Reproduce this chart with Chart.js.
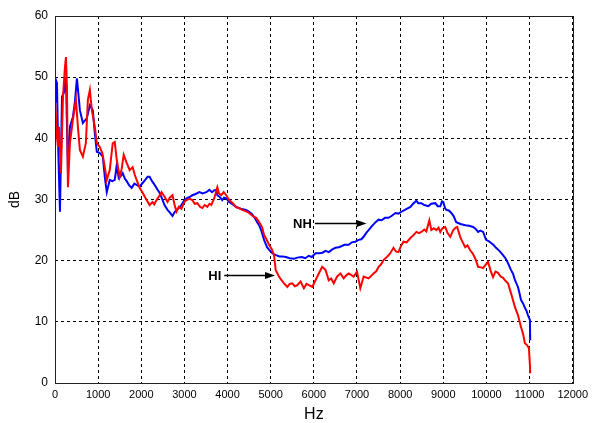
<!DOCTYPE html>
<html>
<head>
<meta charset="utf-8">
<script src="https://cdn.jsdelivr.net/npm/chart.js@4/dist/chart.umd.min.js"></script>
<style>
  html, body { margin: 0; padding: 0; background: #fff; }
  #wrap { width: 593px; height: 423px; position: relative; }
</style>
</head>
<body>
<div id="wrap"><canvas id="c" width="593" height="423"></canvas></div>
<script>
// ---- Data ----
const xTicks = [0,1000,2000,3000,4000,5000,6000,7000,8000,9000,10000,11000,12000];
const yTicks = [0,10,20,30,40,50,60];

// NH (blue)
const nhHz = [
  0,23,46,69,115,162,208,254,300,346,
  415,462,508,577,646,738,808,877,923,969,
  1038,1108,1154,1200,1269,1330,1385,1431,1477,1520,
  1569,1620,1662,1720,1777,1840,1892,1960,2031,2090,
  2146,2192,2250,2308,2360,2423,2480,2538,2608,2660,
  2723,2770,2815,2870,2931,2990,3046,3120,3185,3260,
  3346,3420,3508,3577,3640,3690,3738,3762,3820,3877,
  3920,3969,4038,4120,4200,4300,4431,4500,4569,4630,
  4685,4730,4777,4846,4915,4960,5008,5060,5123,5200,
  5270,5354,5440,5538,5615,5723,5800,5880,5954,6038,
  6115,6200,6269,6346,6420,6500,6577,6650,6708,6808,
  6880,6960,7038,7100,7154,7210,7269,7340,7431,7500,
  7569,7650,7731,7800,7892,7960,8031,8130,8238,8300,
  8377,8420,8492,8560,8654,8720,8815,8870,8931,8970,
  9000,9040,9069,9130,9185,9240,9300,9400,9508,9600,
  9692,9750,9808,9860,9923,9992,10050,10108,10160,10223,
  10300,10385,10440,10500,10569,10620,10662,10731,10770,10800,
  10850,10892,10930,10962,11008,11015];
const nhDb = [
  46,49.5,49,39.7,28,46.8,47.5,50,34.3,41.9,
  43.5,46,49.8,44.6,42.5,43.3,45.4,44.6,40.8,37.8,
  37.6,37,33.7,31.2,33.2,33,33.2,35.6,33.5,33.8,
  34.3,33.4,33,32.3,31.9,32.6,32.4,32.1,32.7,33.2,
  33.7,33.7,33,32.4,31.8,31.1,30.2,29.1,28.3,27.9,
  27.3,27.9,28.3,28.6,29.1,29.8,30.2,30.4,30.7,30.9,
  31.2,31,31.2,31.6,31.2,31.5,31.6,30.7,30.4,29.9,
  30.3,30.2,29.6,29.2,28.8,28.5,28.3,28,27.6,27,
  26.3,25.8,25,23.4,22.2,21.8,21.4,21.1,20.9,20.7,
  20.7,20.6,20.4,20.3,20.5,20.6,20.4,20.8,20.6,21.2,
  21.2,21.3,21.6,21.4,21.8,22.1,22.2,22.4,22.6,22.6,
  23,23.1,23.4,23.5,23.9,24.5,25,25.6,26.3,26.7,
  26.6,27,27,27.3,27.8,27.7,28,28.4,28.8,29.3,
  29.8,29.4,29.4,29.1,28.9,29.3,29.4,28.9,28.9,29.7,
  29.6,28.6,28.3,28.2,27.8,27.3,26.3,26,25.8,25.7,
  25.5,25.2,24.7,24.9,24.7,23.4,23.2,22.9,22.6,22.1,
  21.6,20.9,20.4,19.6,18.5,17.8,16.8,15.7,14.6,13.6,
  13,12.3,11.8,11.1,10.3,7];

// HI (red)
const hiHz = [
  0,46,69,92,138,185,231,254,277,300,
  346,415,485,531,577,646,715,762,808,854,
  923,969,1038,1100,1154,1200,1269,1338,1385,1431,
  1500,1546,1592,1662,1731,1800,1850,1892,1962,2031,
  2100,2192,2260,2300,2354,2420,2469,2538,2608,2660,
  2723,2770,2815,2870,2931,3000,3046,3120,3185,3240,
  3300,3360,3415,3470,3531,3580,3623,3692,3762,3800,
  3854,3910,3969,4038,4120,4200,4270,4338,4420,4500,
  4580,4662,4730,4800,4846,4900,4962,5030,5077,5115,
  5192,5250,5308,5385,5440,5500,5560,5615,5692,5769,
  5830,5885,5962,6038,6115,6192,6269,6346,6400,6462,
  6538,6615,6692,6750,6808,6923,7000,7077,7154,7269,
  7385,7450,7500,7560,7615,7692,7760,7846,7900,7962,
  8020,8077,8150,8238,8300,8377,8440,8492,8560,8608,
  8677,8723,8780,8838,8890,8931,8980,9046,9100,9162,
  9231,9290,9323,9392,9450,9508,9560,9623,9680,9738,
  9808,9870,9923,9980,10038,10100,10154,10210,10269,10330,
  10385,10440,10500,10569,10662,10731,10800,10850,10892,10940,
  10985,11008,11015];
const hiDb = [
  46.3,40.2,38.6,41.9,34.3,46.8,51.7,53.3,48.4,32,
  39.2,43,46.3,41.9,38.1,37,39.2,46.3,47.9,44.6,
  41.9,39.2,38.6,37.5,35.3,33.2,34.8,39.2,39.4,36.5,
  33.7,35,37.3,36,34.8,35.3,34,33.2,31.9,31.1,
  30.2,29.1,29.6,29.2,29.9,30.6,31.2,30.5,29.6,30.3,
  30.7,29.2,28,28.8,28.5,29.6,29.9,30.1,29.9,29.3,
  29.4,28.8,28.6,29.1,28.8,29.3,29.1,30.2,32,31,
  30.7,31.2,30.7,29.9,29.4,28.7,28.6,28.3,28.1,27.8,
  27.3,27,26.3,25.5,24.2,23.5,22.6,21.8,20.9,18.5,
  17.4,16.8,16.3,15.7,16.2,16.3,15.8,16,16.6,15.5,
  16.2,16,15.7,16.8,17.9,19,18.5,16.8,17.1,16.3,
  17.4,17.9,17.1,17.6,17.9,17.4,18.2,15.5,17.4,17.1,
  17.9,18.3,19,19.4,20.1,20.6,21.1,22.1,21.5,21.4,
  22.4,23.1,23,23.7,24.1,24.7,24.5,24.7,25.1,24.8,
  26.6,25,25.3,25,25.4,24.7,25.3,25.5,24.5,23.9,
  25,25.4,25.5,23.9,23,22.2,22.5,21.7,21.2,20.4,
  19,18.9,18.8,19.3,19.8,18.3,17.3,18.2,18,17.4,
  17.2,16.7,16.3,14.7,12.4,11.1,9.2,8,6.5,6.2,
  5.7,3,1.6];

// Annotation labels: text, arrow start Hz, arrow end Hz, dB level
const annoText = ['NH','HI'];
const annoFromHz = [6023,3923];
const annoToHz = [7223,5100];
const annoDb = [26.2,17.7];

const toPts = (xs, ys) => xs.map((x, i) => ({x: x, y: ys[i]}));

const annoPlugin = {
  id: 'anno',
  afterDatasetsDraw(chart) {
    const ctx = chart.ctx;
    const xs = chart.scales.x, ys = chart.scales.y;
    ctx.save();
    for (let i = 0; i < annoText.length; i++) {
      const x0 = xs.getPixelForValue(annoFromHz[i]);
      const x1 = xs.getPixelForValue(annoToHz[i]);
      const y = Math.round(ys.getPixelForValue(annoDb[i])) + 0.5;
      ctx.strokeStyle = '#000';
      ctx.fillStyle = '#000';
      ctx.lineWidth = 1.3;
      ctx.beginPath();
      ctx.moveTo(x0, y);
      ctx.lineTo(x1 - 8, y);
      ctx.stroke();
      ctx.beginPath();
      ctx.moveTo(x1, y);
      ctx.lineTo(x1 - 10, y - 3.5);
      ctx.lineTo(x1 - 10, y + 3.5);
      ctx.closePath();
      ctx.fill();
      ctx.font = 'bold 13px "Liberation Sans", Arial, sans-serif';
      ctx.textAlign = 'right';
      ctx.textBaseline = 'middle';
      ctx.fillText(annoText[i], x0 - 3, y + 0.5);
    }
    // frame
    const a = chart.chartArea;
    ctx.strokeStyle = '#222';
    ctx.lineWidth = 1;
    ctx.setLineDash([]);
    ctx.strokeRect(Math.round(a.left) + 0.5, Math.round(a.top) + 0.5,
                   Math.round(a.right - a.left), Math.round(a.bottom - a.top));
    ctx.restore();
  }
};

new Chart(document.getElementById('c'), {
  type: 'line',
  data: {
    datasets: [
      { label: 'HI', data: toPts(hiHz, hiDb), borderColor: '#ff0000', borderWidth: 2, pointRadius: 0, tension: 0, fill: false },
      { label: 'NH', data: toPts(nhHz, nhDb), borderColor: '#0000ff', borderWidth: 2, pointRadius: 0, tension: 0, fill: false }
    ]
  },
  options: {
    responsive: false,
    animation: false,
    devicePixelRatio: 1,
    layout: { padding: { left: 0, right: 18, top: 16, bottom: 0 } },
    plugins: { legend: { display: false }, tooltip: { enabled: false } },
    scales: {
      x: {
        type: 'linear', min: 0, max: 12000,
        afterBuildTicks: s => { s.ticks = xTicks.map(v => ({value: v})); },
        afterFit: s => { s.height = 40; },
        grid: { color: '#000', lineWidth: 1, drawTicks: false, borderDash: [3,3] },
        border: { display: false, dash: [3,3] },
        ticks: { color: '#000', padding: 5, maxRotation: 0, autoSkip: false,
                 callback: v => String(v),
                 font: { family: '"Liberation Sans", Arial, sans-serif', size: 11 } },
        title: { display: true, text: 'Hz', color: '#000', padding: { top: 0, bottom: 0 },
                 font: { family: '"Liberation Sans", Arial, sans-serif', size: 16, lineHeight: 1 } }
      },
      y: {
        type: 'linear', min: 0, max: 60,
        afterBuildTicks: s => { s.ticks = yTicks.map(v => ({value: v})); },
        afterFit: s => { s.width = 55; },
        grid: { color: '#000', lineWidth: 1, drawTicks: false, borderDash: [3,3] },
        border: { display: false, dash: [3,3] },
        ticks: { color: '#000', padding: 7, callback: v => String(v),
                 font: { family: '"Liberation Sans", Arial, sans-serif', size: 12 } },
        title: { display: true, text: 'dB', color: '#000', padding: { top: 8, bottom: 0 },
                 font: { family: '"Liberation Sans", Arial, sans-serif', size: 14, lineHeight: 1 } }
      }
    }
  },
  plugins: [annoPlugin]
});
</script>
</body>
</html>
